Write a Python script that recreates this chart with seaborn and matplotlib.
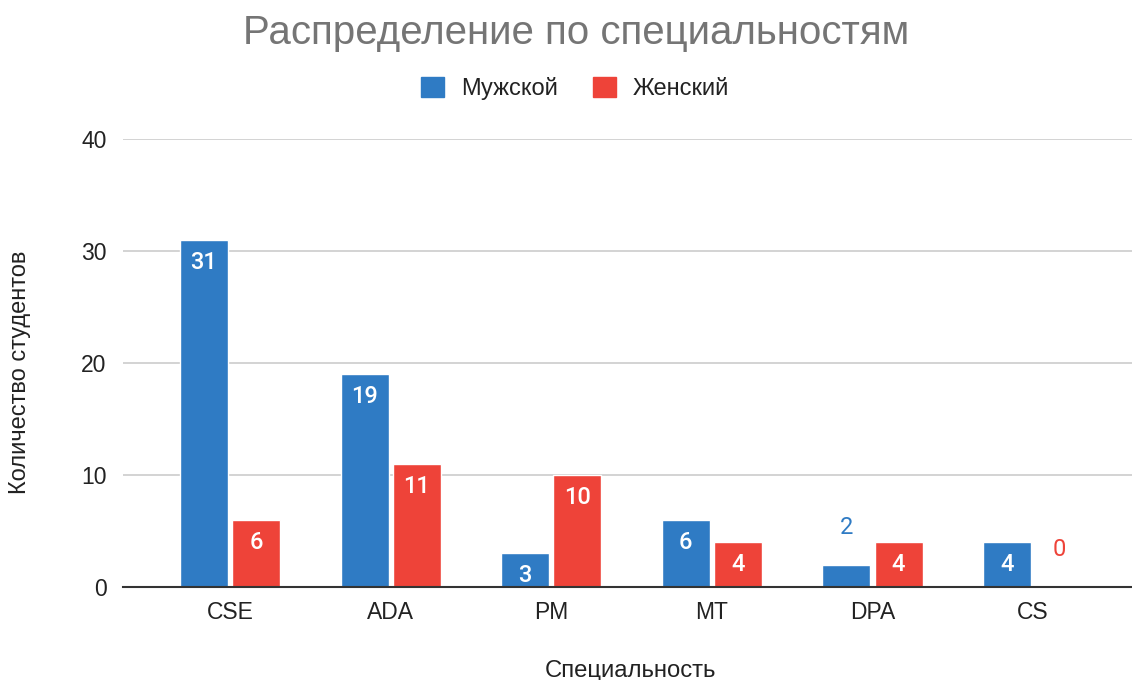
import pandas as pd
import matplotlib.pyplot as plt
import seaborn as sns

specialties = ['CSE', 'ADA', 'PM', 'MT', 'DPA', 'CS']
male = [31, 19, 3, 6, 2, 4]
female = [6, 11, 10, 4, 4, 0]
series_names = ['Мужской', 'Женский']
y_ticks = [0, 10, 20, 30, 40]

BLUE = '#2f7bc4'
RED = '#ee4339'


def build_df():
    rows = []
    for i, spec in enumerate(specialties):
        rows.append({'spec': spec, 'sex': series_names[0], 'count': male[i]})
        rows.append({'spec': spec, 'sex': series_names[1], 'count': female[i]})
    return pd.DataFrame(rows)


def main():
    sns.set_theme(style='white')
    plt.rcParams['font.family'] = ['Liberation Sans', 'DejaVu Sans']

    df = build_df()
    fig = plt.figure(figsize=(11.32, 6.8), dpi=100)
    ax = fig.add_axes([0.1087, 0.1368, 0.8913, 0.6588])

    sns.barplot(data=df, x='spec', y='count', hue='sex', order=specialties,
                hue_order=series_names, palette=[BLUE, RED], width=0.65,
                gap=0.08, saturation=1, ax=ax, legend=False, zorder=3)

    ax.set_ylim(0, 40)
    ax.set_xlim(-0.666, 5.616)
    ax.set_yticks(y_ticks)
    ax.set_yticklabels([str(t) for t in y_ticks])
    ax.yaxis.grid(True, color='#cccccc', linewidth=1.2, zorder=0)
    for side in ['top', 'right', 'left']:
        ax.spines[side].set_visible(False)
    ax.spines['bottom'].set_color('#333333')
    ax.spines['bottom'].set_linewidth(1.5)
    ax.spines['bottom'].set_zorder(4)
    ax.tick_params(axis='both', length=0, labelsize=16.5, colors='#222222')
    ax.tick_params(axis='x', pad=10)
    ax.tick_params(axis='y', pad=12)

    # data labels: inside the bar if it is tall enough, else above it
    colors = [BLUE, RED]
    for k, cont in enumerate(ax.containers):
        for bar in cont:
            h = bar.get_height()
            cx = bar.get_x() + bar.get_width() / 2
            if h >= 3:
                ax.annotate(f'{int(h)}', (cx, h), xytext=(0, -16), textcoords='offset points',
                            ha='center', va='center', color='white', fontsize=17,
                            family='Roboto', fontweight='medium', zorder=5)
            else:
                ax.annotate(f'{int(h)}', (cx, h), xytext=(0, 27), textcoords='offset points',
                            ha='center', va='center', color=colors[k], fontsize=17,
                            family='Roboto', zorder=5)

    ax.set_xlabel('Специальность', fontsize=17.2, color='#222222')
    ax.set_ylabel('Количество студентов', fontsize=17, color='#222222')
    ax.xaxis.set_label_coords(0.503, -0.163)
    ax.yaxis.set_label_coords(-0.091, 0.48)

    fig.text(0.509, 0.951, 'Распределение по специальностям', ha='center', va='center',
             fontsize=29, color='#757575')

    # legend
    handles = [plt.Rectangle((0, 0), 1, 1, color=c) for c in [BLUE, RED]]
    fig.legend(handles, series_names, loc='center', bbox_to_anchor=(0.508, 0.87),
               ncol=2, frameon=False, fontsize=17, handlelength=0.98, handleheight=0.98,
               columnspacing=1.5, handletextpad=0.72, labelcolor='#222222')

    fig.savefig('out.png', dpi=100)


if __name__ == '__main__':
    main()
